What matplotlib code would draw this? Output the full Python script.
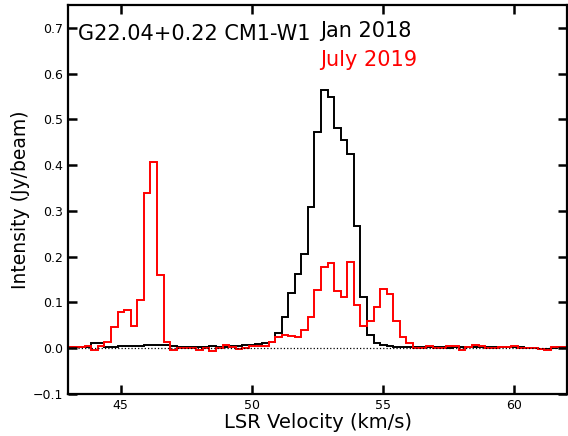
import numpy as np
import matplotlib
matplotlib.use('Agg')
import matplotlib.pyplot as plt

# channel grid (km/s)
v_start = 42.88
dv = 0.25

# Jan 2018 spectrum (Jy/beam)
jan2018 = [0.002, 0.002, 0.002, 0.002, 0.012, 0.011, 0.003, 0.003, 0.004, 0.004,
           0.005, 0.005, 0.006, 0.008, 0.007, 0.006, 0.004, 0.003, 0.003, 0.002,
           0.003, 0.003, 0.004, 0.003, 0.003, 0.005, 0.005, 0.006, 0.008, 0.009,
           0.011, 0.014, 0.033, 0.069, 0.120, 0.162, 0.205, 0.309, 0.472, 0.563,
           0.548, 0.482, 0.455, 0.424, 0.266, 0.113, 0.029, 0.011, 0.006, 0.004,
           0.002, 0.002, 0.002, 0.002, 0.002, 0.002, 0.002, 0.002, 0.001, 0.002,
           0.002, 0.002, 0.002, 0.002, 0.002, 0.002, 0.002, 0.002, 0.002, 0.002,
           0.001, 0.001, -0.001, -0.001, 0.001, 0.002, 0.002]

# July 2019 spectrum (Jy/beam)
jul2019 = [0.002, 0.002, 0.002, 0.005, -0.004, 0.005, 0.014, 0.046, 0.080, 0.084,
           0.049, 0.105, 0.338, 0.407, 0.160, 0.013, -0.004, 0.001, 0.000, 0.001,
           -0.003, 0.000, -0.005, 0.001, 0.006, 0.003, -0.002, 0.001, 0.004, 0.004,
           0.005, 0.014, 0.025, 0.028, 0.027, 0.025, 0.040, 0.069, 0.127, 0.178,
           0.187, 0.126, 0.113, 0.189, 0.095, 0.048, 0.059, 0.090, 0.129, 0.119,
           0.060, 0.024, 0.012, 0.001, 0.001, 0.004, 0.000, 0.000, 0.004, 0.004,
           -0.003, 0.003, 0.008, 0.004, 0.000, 0.000, 0.003, 0.003, 0.004, 0.001,
           0.001, 0.001, -0.002, -0.003, 0.002, 0.002, 0.002]

edges = v_start + dv * np.arange(len(jan2018) + 1)

fig = plt.figure(figsize=(5.68, 4.36), dpi=100)
ax = fig.add_axes([0.1202, 0.0963, 0.878, 0.8925])

ax.axhline(0, color='black', linestyle=':', linewidth=0.9)
ax.stairs(jan2018, edges, baseline=None, color='black', linewidth=1.4)
ax.stairs(jul2019, edges, baseline=None, color='red', linewidth=1.4)

ax.set_xlim(43.0, 62.0)
ax.set_ylim(-0.1, 0.75)
ax.set_xticks([45, 50, 55, 60])
ax.set_yticks(np.round(np.arange(-0.1, 0.75, 0.1), 1))
ax.tick_params(direction='in', length=6.5, width=1.8, labelsize=9,
               top=True, right=True)
for sp in ax.spines.values():
    sp.set_linewidth(1.6)

ax.set_xlabel('LSR Velocity (km/s)', fontsize=14, labelpad=1)
ax.set_ylabel('Intensity (Jy/beam)', fontsize=13.5, labelpad=2)

ax.text(43.36, 0.673, 'G22.04+0.22 CM1-W1', fontsize=15, color='black')
ax.text(52.58, 0.680, 'Jan 2018', fontsize=15, color='black')
ax.text(52.58, 0.617, 'July 2019', fontsize=15, color='red')

fig.savefig('out.png', dpi=100)
